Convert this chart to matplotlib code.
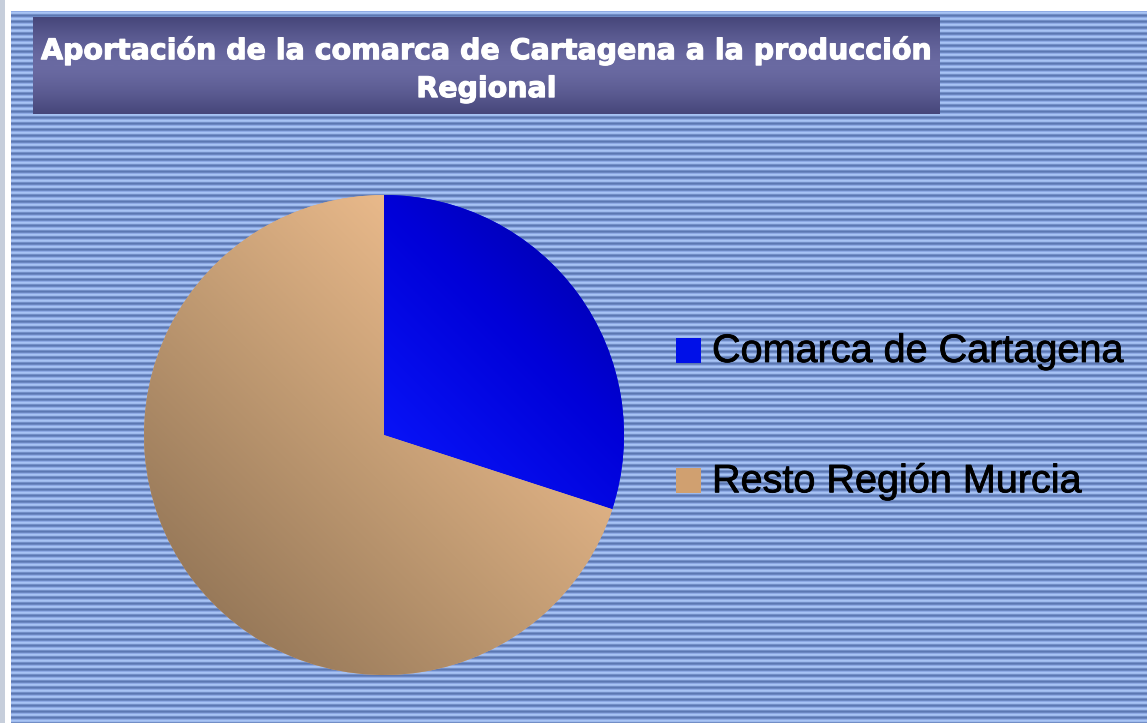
import numpy as np
import matplotlib.pyplot as plt
import matplotlib.patheffects as pe
from matplotlib.patches import Rectangle
from matplotlib.colors import LinearSegmentedColormap

# Share of regional production.
labels = ['Comarca de Cartagena', 'Resto Región Murcia']
shares = [30, 70]
title = 'Aportación de la comarca de Cartagena a la producción\nRegional'

W, H = 1147, 723
fig = plt.figure(figsize=(W / 100, H / 100), dpi=100)

# Striped background with a thin light frame on the left and top.
bg = np.ones((H, W, 3))
stripe = np.array([[0.66, 0.77, 0.96], [0.62, 0.73, 0.93], [0.45, 0.56, 0.78],
                   [0.36, 0.47, 0.70], [0.42, 0.53, 0.76], [0.56, 0.67, 0.90]])
rows = np.arange(H) % len(stripe)
bg[11:, 11:] = stripe[rows[11:]][:, None, :]
bg[:, :5] = [0.78, 0.81, 0.86]
bg_ax = fig.add_axes([0, 0, 1, 1])
bg_ax.imshow(bg, interpolation='nearest', aspect='auto')
bg_ax.axis('off')

# Title box with vertical gradient.
tx0, tx1, ty0, ty1 = 33, 940, 17, 114
title_ax = fig.add_axes([tx0 / W, 1 - ty1 / H, (tx1 - tx0) / W, (ty1 - ty0) / H])
grad = np.abs(np.linspace(-1, 1, 100)) ** 1.5
tcmap = LinearSegmentedColormap.from_list('t', ['#6a6aa2', '#46467a'])
title_ax.imshow(grad[:, None], cmap=tcmap, aspect='auto', extent=[0, 1, 0, 1])
title_ax.set_xlim(0, 1)
title_ax.set_ylim(0, 1)
title_ax.axis('off')
title_ax.text(0.5, 0.46, title, ha='center', va='center', color='white',
              fontsize=20.5, fontweight='bold', family='DejaVu Sans', linespacing=1.45,
              path_effects=[pe.withStroke(linewidth=0.8, foreground='white')])

# Pie with per-wedge diagonal gradients.
cx, cy, r = 384, 435, 240
pie_ax = fig.add_axes([(cx - r) / W, (H - cy - r) / H, 2 * r / W, 2 * r / H])
wedges, _ = pie_ax.pie(shares, startangle=90, counterclock=False, radius=1,
                       colors=['#0010f0', '#d8aa80'])
pie_ax.set_xlim(-1, 1)
pie_ax.set_ylim(-1, 1)
pie_ax.set_aspect('equal')
pie_ax.axis('off')

gx, gy = np.meshgrid(np.linspace(-1, 1, 300), np.linspace(-1, 1, 300))
cmaps = [LinearSegmentedColormap.from_list('b', ['#0a18ff', '#0000d8', '#00008a']),
         LinearSegmentedColormap.from_list('o', ['#8f7254', '#c09a72', '#f2c090'])]
ranges = [(-0.2, 1.6), (-1.2, 0.9)]
for w, cm, (lo, hi) in zip(wedges, cmaps, ranges):
    t = ((gx + gy) / np.sqrt(2) - lo) / (hi - lo)
    im = pie_ax.imshow(np.clip(t, 0, 1), cmap=cm, origin='lower', extent=[-1, 1, -1, 1],
                       vmin=0, vmax=1, interpolation='bilinear', zorder=3)
    im.set_clip_path(w)

# Legend drawn by hand.
leg_colors = ['#0010e8', '#d0a070']
for i, (lab, col) in enumerate(zip(labels, leg_colors)):
    yc = 351 + i * 130
    fig.patches.append(Rectangle((676 / W, 1 - (yc + 12) / H), 25 / W, 25 / H,
                                 transform=fig.transFigure, facecolor=col, edgecolor='none'))
    fig.text(712 / W, 1 - yc / H, lab, ha='left', va='center', fontsize=28.5,
             family='Liberation Sans', color='black',
             path_effects=[pe.withStroke(linewidth=0.6, foreground='black')])

fig.savefig('out.png', dpi=100)
